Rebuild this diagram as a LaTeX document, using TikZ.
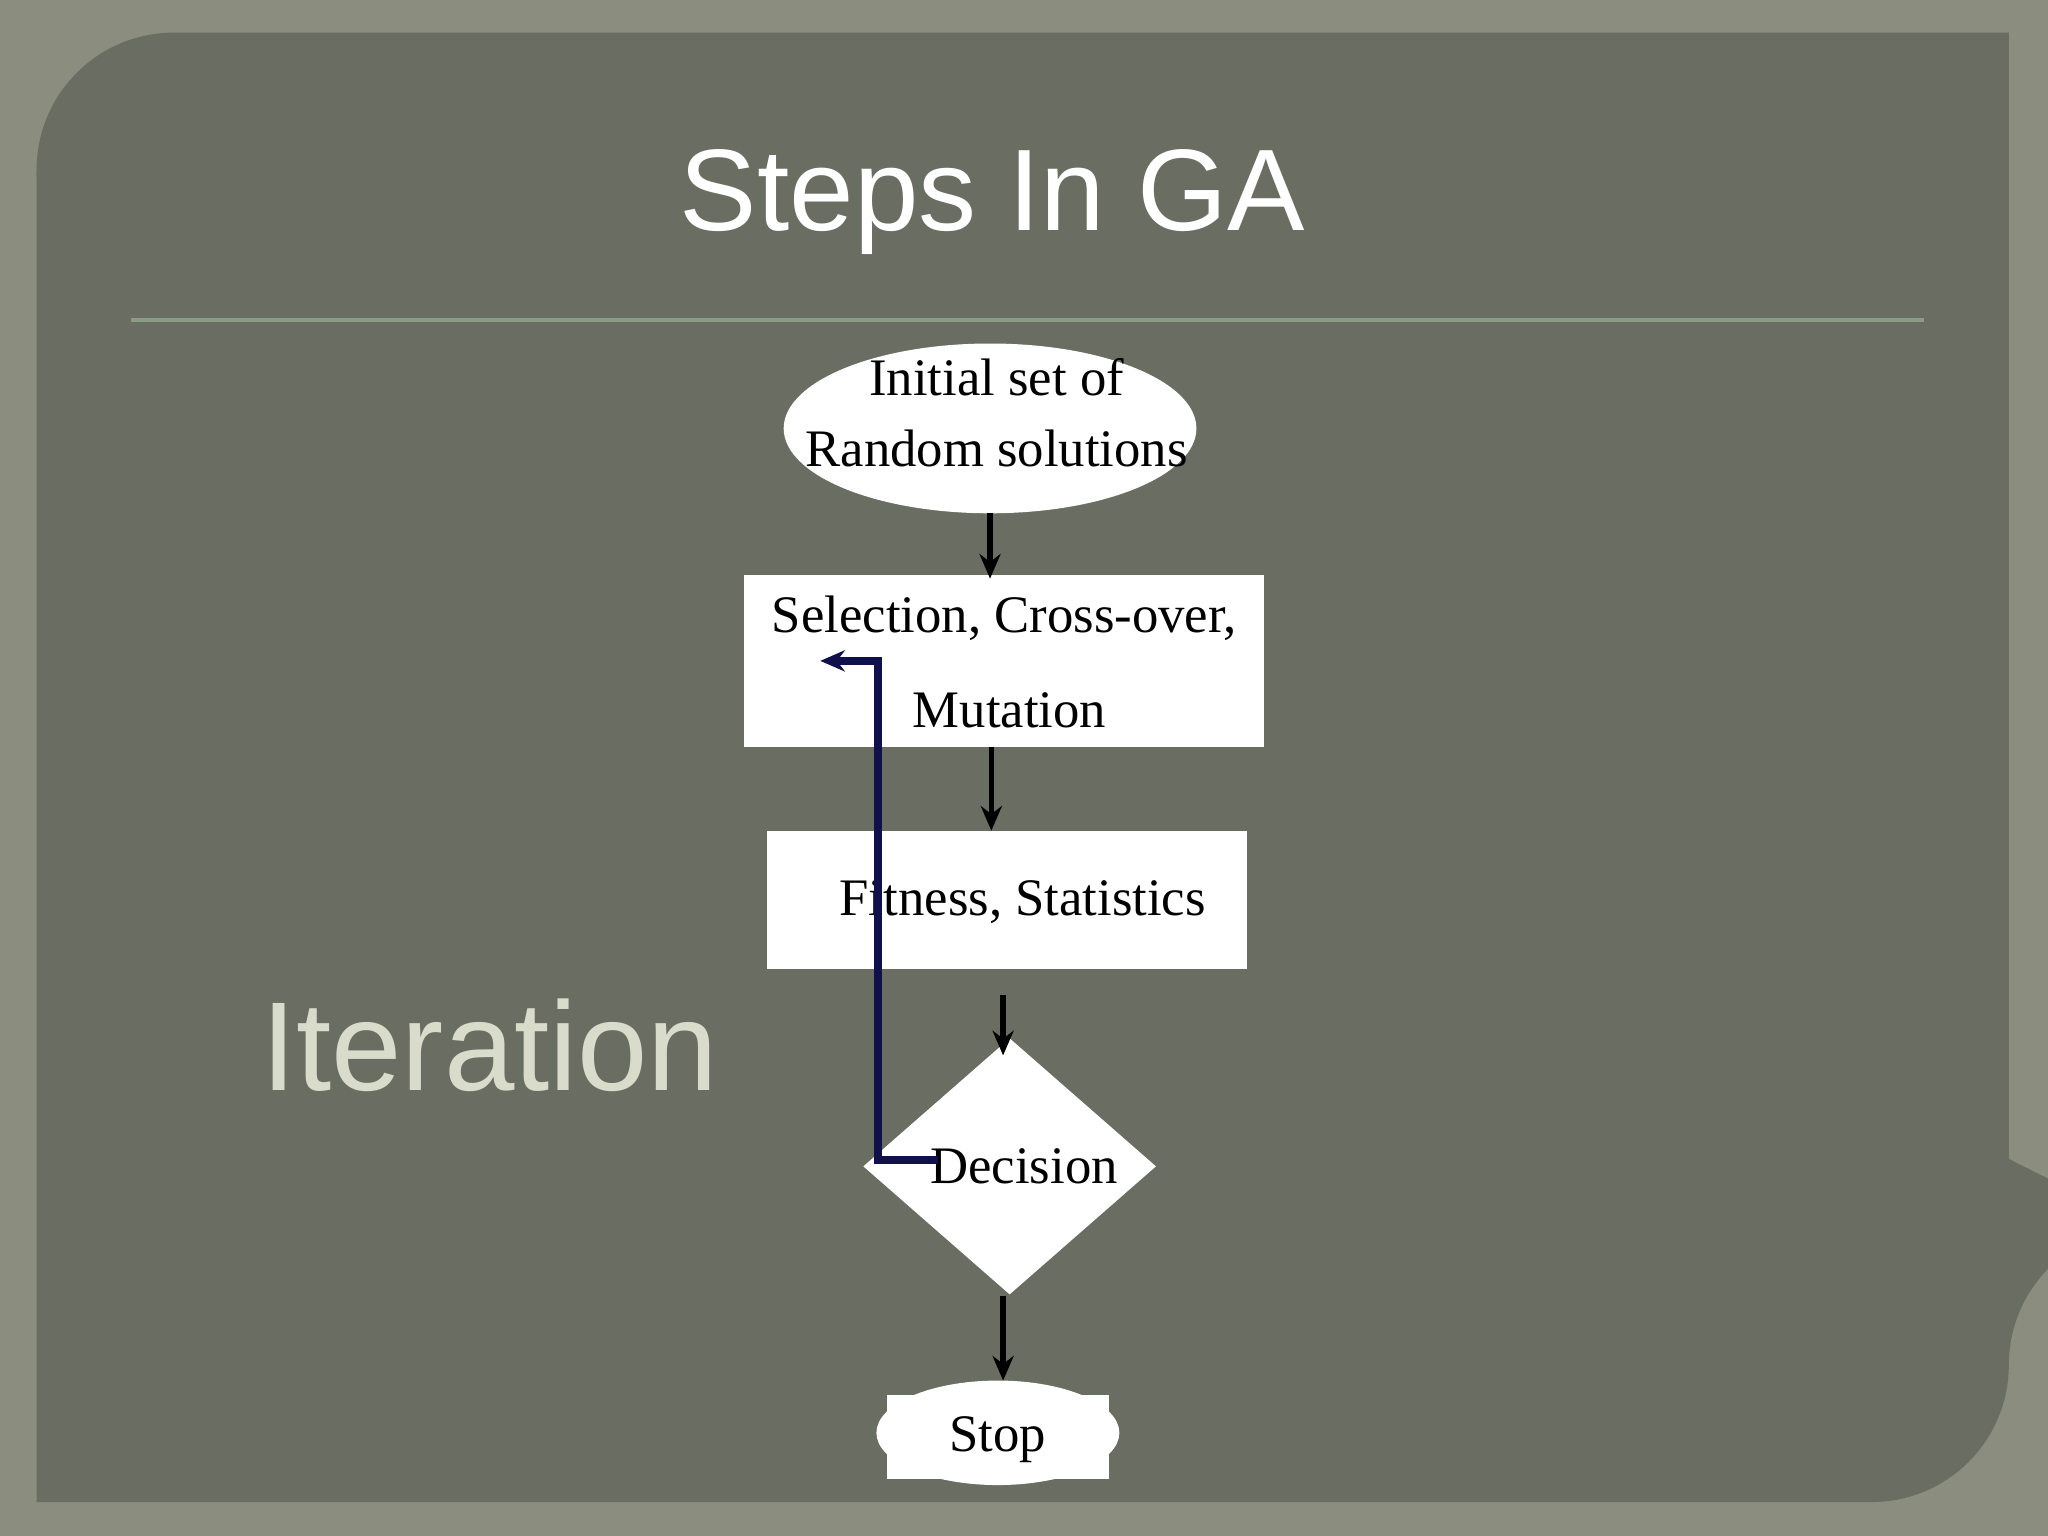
\documentclass[tikz,border=0pt]{standalone}
\usepackage{fontspec}
\setmainfont{Liberation Serif}
\newfontfamily\sansf{Liberation Sans}
\usetikzlibrary{shapes.geometric,arrows.meta}
\definecolor{outerbg}{HTML}{8B8E7E}
\definecolor{panel}{HTML}{6A6D61}
\definecolor{rulec}{HTML}{8C9C84}
\definecolor{itc}{HTML}{D9DCCB}
\definecolor{navy}{HTML}{10104A}
\begin{document}
\begin{tikzpicture}[x=0.01306cm,y=-0.01306cm,
  box/.style={draw=none,fill=white},
  lbl/.style={font=\fontsize{15}{18}\selectfont,text=black,inner sep=0pt},
  arr/.style={draw=black,line width=1.6pt,-{Stealth[length=7pt,width=6pt]}}]
\useasboundingbox (0,0) rectangle (1568,1176);
\fill[outerbg] (0,0) rectangle (1568,1176);
\fill[panel] (28,130) arc[start angle=180,end angle=90,radius=105] -- (1538,25) -- (1538,1045)
  arc[start angle=0,end angle=90,radius=-105] ;
\fill[panel] (28,130) arc[start angle=180,end angle=90,x radius=105,y radius=-105] -- (1538,25) -- (1538,1045)
  arc[start angle=0,end angle=-90,x radius=105,y radius=-105] -- (28,1150) -- cycle;
\draw[rulec,line width=1pt] (100,245) -- (1473,245);
\node[font=\sansf\fontsize{33}{36}\selectfont,text=white] (title) at (760,155) {Steps In GA};
\node[font=\sansf\fontsize{36}{40}\selectfont,text=itc] (iter) at (375,800) {Iteration};
% shapes
\fill[white] (758,328) ellipse[x radius=158,y radius=65];
\node[lbl,align=center] (init) at (763,316) {Initial set of\\[2pt]Random solutions};
\fill[white] (570,440) rectangle (968,572);
\node[lbl] (sel) at (769,473) {Selection, Cross-over,};
\node[lbl] (mut) at (773,544) {Mutation};
\fill[white] (587,636) rectangle (955,742);
\node[lbl] (fit) at (783,691) {Fitness, Statistics};
\fill[white] (773,795) -- (885,893) -- (773,991) -- (661,893) -- cycle;
\node[lbl] (dec) at (784,893) {Decision};
\fill[white] (764,1097) ellipse[x radius=93,y radius=40];
\fill[white] (679,1068) rectangle (849,1132);
\node[lbl] (stop) at (764,1102) {Stop};
% connectors
\coordinate (a1) at (758,393); \coordinate (a2) at (758,443);
\coordinate (b1) at (759,572); \coordinate (b2) at (759,636);
\coordinate (c1) at (768,762); \coordinate (c2) at (768,808);
\coordinate (d1) at (768,992); \coordinate (d2) at (768,1057);
\draw[arr] (a1) -- (a2);
\draw[arr] (b1) -- (b2);
\draw[arr] (c1) -- (c2);
\draw[arr] (d1) -- (d2);
\coordinate (l1) at (718,888); \coordinate (l2) at (628,506);
\draw[navy,line width=2.2pt,-{Stealth[length=7pt,width=6pt]}] (l1) -- (672,888) -- (672,506) -- (l2);
\end{tikzpicture}
\end{document}
